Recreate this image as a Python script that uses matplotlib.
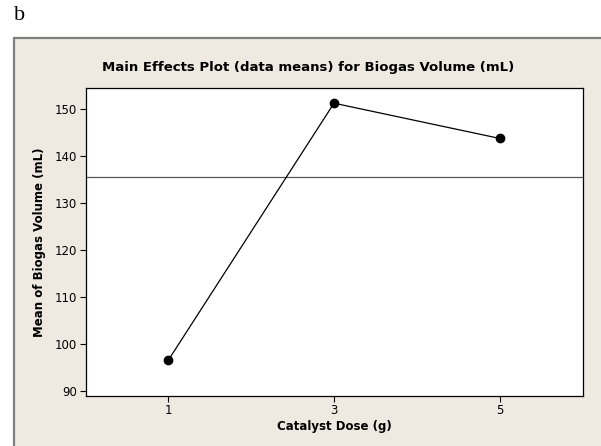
import matplotlib.pyplot as plt
from matplotlib.patches import Rectangle

# catalyst dose levels and mean biogas volume at each level
doses = [1, 3, 5]
means = [96.6, 151.3, 143.8]
grand_mean = 135.6
yticks = [90, 100, 110, 120, 130, 140, 150]

W, H = 601, 446
fig = plt.figure(figsize=(W / 100, H / 100), dpi=100)
fig.patch.set_facecolor('white')

# beige minitab panel, only left/top edge inside the picture
panel = Rectangle((14 / W, -0.1), 1.2, 0.1 + 1 - 38 / H, transform=fig.transFigure,
                  facecolor='#EEEAE1', edgecolor='#808080', lw=1.6, zorder=-1)
fig.patches.append(panel)

fig.text(14 / W, 1 - 15 / H, 'b', family='Liberation Serif', fontsize=16,
         va='center', ha='left')

ax = fig.add_axes([85.5 / W, 1 - 395.5 / H, (582.5 - 85.5) / W, (395.5 - 88.3) / H])
ax.set_zorder(1)
ax.set_facecolor('white')

ax.axhline(grand_mean, color='#555555', lw=0.9, zorder=1)
ax.plot(doses, means, color='black', lw=0.9, marker='o', markersize=6, zorder=2)

ax.set_xlim(0, 6)
ax.set_ylim(89.08, 154.47)
ax.set_xticks(doses)
ax.set_yticks(yticks)
ax.tick_params(direction='out', length=4, width=0.8, labelsize=8.5, pad=2)
for s in ax.spines.values():
    s.set_linewidth(0.9)

ax.set_xlabel('Catalyst Dose (g)', fontsize=8.5, fontweight='bold', labelpad=2)
ax.set_ylabel('Mean of Biogas Volume (mL)', fontsize=8.5, fontweight='bold', labelpad=6)

fig.text(308 / W, 1 - 68 / H, 'Main Effects Plot (data means) for Biogas Volume (mL)',
         fontsize=9.5, fontweight='bold', ha='center', va='center')

fig.savefig('out.png', dpi=100)
